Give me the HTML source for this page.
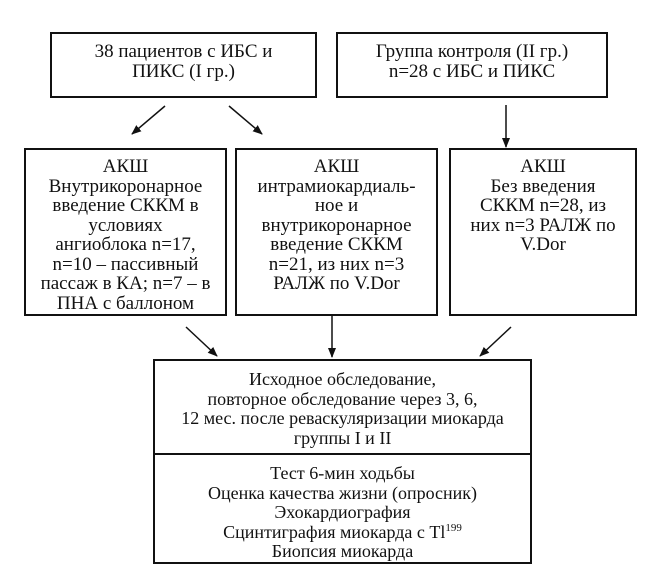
<!DOCTYPE html>
<html><head><meta charset="utf-8"><style>
html,body{margin:0;padding:0;background:#fff;}
body{width:668px;height:579px;position:relative;overflow:hidden;font-family:"Liberation Serif","DejaVu Serif",serif;color:#111;}
.b{position:absolute;border:2px solid #111;box-sizing:border-box;text-align:center;font-size:19px;line-height:19.5px;}
sup{font-size:11px;line-height:0;vertical-align:7px;}
</style></head><body>
<div class="b" style="left:50px;top:32px;width:267px;height:66px;padding-top:8px;line-height:20px;">38 пациентов с ИБС и<br>ПИКС (I гр.)</div>
<div class="b" style="left:336px;top:32px;width:272px;height:66px;padding-top:8px;line-height:20px;">Группа контроля (II гр.)<br>n=28 с ИБС и ПИКС</div>
<div class="b" style="left:24px;top:148px;width:203px;height:168px;padding-top:7px;">АКШ<br>Внутрикоронарное<br>введение СККМ в<br>условиях<br>ангиоблока n=17,<br>n=10 – пассивный<br>пассаж в КА; n=7 – в<br>ПНА с баллоном</div>
<div class="b" style="left:235px;top:148px;width:203px;height:168px;padding-top:7px;">АКШ<br>интрамиокардиаль-<br>ное и<br>внутрикоронарное<br>введение СККМ<br>n=21, из них n=3<br>РАЛЖ по V.Dor</div>
<div class="b" style="left:449px;top:148px;width:188px;height:168px;padding-top:7px;">АКШ<br>Без введения<br>СККМ n=28, из<br>них n=3 РАЛЖ по<br>V.Dor</div>
<div class="b" style="left:153px;top:359px;width:379px;height:205px;font-size:18px;">
<div style="height:94px;border-bottom:2px solid #111;padding-top:9px;box-sizing:border-box;">Исходное обследование,<br>повторное обследование через 3, 6,<br>12 мес. после реваскуляризации миокарда<br>группы I и II</div>
<div style="padding-top:9px;">Тест 6-мин ходьбы<br>Оценка качества жизни (опросник)<br>Эхокардиография<br>Сцинтиграфия миокарда с Tl<sup>199</sup><br>Биопсия миокарда</div>
</div>
<svg width="668" height="579" style="position:absolute;left:0;top:0" xmlns="http://www.w3.org/2000/svg">
<defs><marker id="a" markerWidth="10" markerHeight="10" refX="9" refY="5" orient="auto" markerUnits="userSpaceOnUse"><path d="M0,1 L10,5 L0,9 Z" fill="#111"/></marker></defs>
<g stroke="#111" stroke-width="1.5" marker-end="url(#a)">
<line x1="165" y1="106" x2="132" y2="134"/>
<line x1="229" y1="106" x2="262" y2="134"/>
<line x1="506" y1="105" x2="506" y2="147"/>
<line x1="186" y1="327" x2="217" y2="356"/>
<line x1="332" y1="316" x2="332" y2="357"/>
<line x1="511" y1="327" x2="480" y2="356"/>
</g></svg>
</body></html>
